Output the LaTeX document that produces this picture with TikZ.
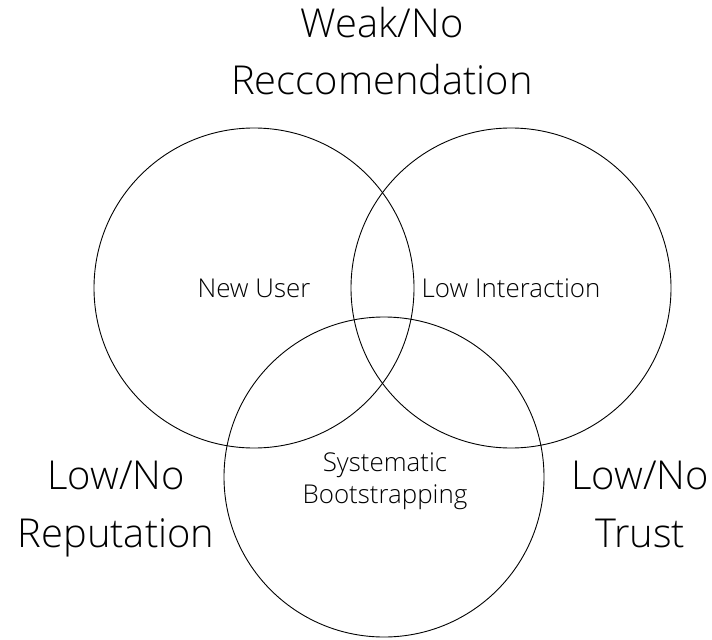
\documentclass[tikz,border=0pt]{standalone}
\usepackage{fontspec}
\setmainfont{Open Sans}[UprightFont={* Light}]
\begin{document}
\begin{tikzpicture}[x=1bp,y=-1bp,
  ring/.style={draw=black,line width=0.9bp},
  % anchor=base sits on the baseline of the last line
  biglabel/.style={font=\fontsize{40}{58}\selectfont,align=center,inner sep=0pt,anchor=base},
  smalllabel/.style={font=\fontsize{26}{32}\selectfont,align=center,inner sep=0pt,anchor=base}]
  \useasboundingbox (0,0) rectangle (712,640);
  % the three sets
  \node[ring,circle,minimum size=320bp,inner sep=0pt] (user) at (254,288) {};
  \node[ring,circle,minimum size=320bp,inner sep=0pt] (inter) at (511,288) {};
  \node[ring,circle,minimum size=320bp,inner sep=0pt] (boot) at (384,477) {};
  % labels inside the sets
  \node[smalllabel] (tuser) at (254,297) {New User};
  \node[smalllabel] (tinter) at (511,297) {Low Interaction};
  \node[smalllabel] (tboot) at (385,503) {Systematic\\Bootstrapping};
  % outer labels
  \node[biglabel] (rec) at (382,95) {Weak/No\\Reccomendation};
  \node[biglabel] (rep) at (116,547) {Low/No\\Reputation};
  \node[biglabel] (trust) at (640,547) {Low/No\\Trust};
\end{tikzpicture}
\end{document}
